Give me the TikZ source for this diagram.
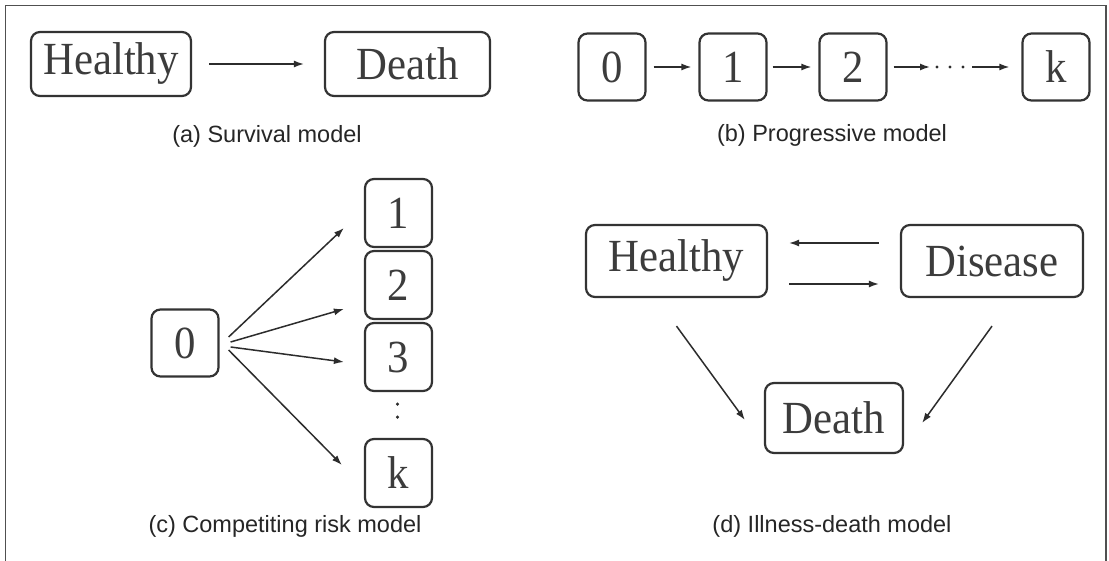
\documentclass[tikz,border=0pt]{standalone}
\usepackage{fontspec}
\usetikzlibrary{arrows.meta,calc}
\setsansfont{Liberation Sans}
\newfontfamily\boxfont[FakeStretch=0.93]{Liberation Serif}
\definecolor{boxc}{HTML}{333333}
\definecolor{txtc}{HTML}{3C3C3C}
\definecolor{arrc}{HTML}{2C2C2C}
\definecolor{capc}{HTML}{262626}
\definecolor{framec}{HTML}{505050}
\tikzset{
  state/.style={draw=boxc, line width=2.2pt, rounded corners=9pt, text=txtc,
    font=\boxfont\fontsize{46}{46}\selectfont, inner sep=0pt, align=center},
  sq/.style={state, minimum width=67pt, minimum height=67pt},
  arr/.style={draw=arrc, line width=1.5pt, -{Latex[length=10pt,width=7pt]}},
  dotrow/.style={draw=arrc, line width=3.4pt, line cap=round, dash pattern=on 0pt off 13pt},
  caption/.style={font=\sffamily\fontsize{23.5}{26}\selectfont, text=capc, inner sep=0pt},
  frame/.style={draw=framec, line width=1.6pt}
}
\begin{document}
\begin{tikzpicture}[x=1pt, y=-1pt]
\useasboundingbox (0,0) rectangle (1109,561);
\fill[white] (0,0) rectangle (1109,561);
% outer frame, open at the bottom
\draw[frame] (5.5,561) -- (5.5,5.5) -- (1106,5.5) -- (1106,561);

% (a) survival model
\node[state, minimum width=160pt, minimum height=64pt] (ha) at (111,64) {Healthy};
\node[state, minimum width=165pt, minimum height=64pt] (da) at (407.5,64) {Death};
\draw[arr, shorten <=17pt, shorten >=20pt] (ha.east) -- (da.west);
\node[caption] (capa) at (267,136) {(a) Survival model};

% (b) progressive model
\node[sq] (b0) at (612,67) {0};
\node[sq] (b1) at (733,67) {1};
\node[sq] (b2) at (853,67) {2};
\node[sq] (bk) at (1056,67) {k};
\draw[arr, shorten <=7pt, shorten >=7pt] (b0.east) -- (b1.west);
\draw[arr, shorten <=5pt, shorten >=7pt] (b1.east) -- (b2.west);
\coordinate (dl) at (930,67);
\coordinate (dr) at (972,67);
\draw[arr, shorten <=6pt] (b2.east) -- (dl);
\draw[dotrow] ($(dl)+(7,0)$) -- ($(dr)+(-5,0)$);
\draw[arr, shorten >=12pt] (dr) -- (bk.west);
\node[caption] (capb) at (832,135) {(b) Progressive model};

% (c) competing risk model
\node[sq] (c0) at (185,343) {0};
\node[sq, minimum height=68pt] (c1) at (398.5,213) {1};
\node[sq, minimum height=68pt] (c2) at (398.5,285) {2};
\node[sq, minimum height=68pt] (c3) at (398.5,357) {3};
\node[sq, minimum height=68pt] (ck) at (398.5,473) {k};
\draw[arr] ($(c0.east)+(9,-6)$) -- ($(c1.west)+(-20,15)$);
\draw[arr] ($(c0.east)+(11,-1)$) -- ($(c2.west)+(-20,24)$);
\draw[arr] ($(c0.east)+(11,4)$) -- ($(c3.west)+(-20,5)$);
\draw[arr] ($(c0.east)+(9,7)$) -- ($(ck.west)+(-22,-8)$);
\draw[dotrow] ($(c3.south)+(-1,12)$) -- ($(ck.north)+(-1,-10)$);
\node[caption] (capc) at (285,526) {(c) Competiting risk model};

% (d) illness-death model
\node[state, minimum width=181pt, minimum height=72pt] (hd) at (676.5,261) {Healthy};
\node[state, minimum width=182pt, minimum height=72pt] (dd) at (992,261) {Disease};
\node[state, minimum width=138pt, minimum height=70pt] (de) at (834,418) {Death};
\draw[arr] ($(dd.west)+(-21,-18)$) -- ($(hd.east)+(21,-18)$);
\draw[arr] ($(hd.east)+(21,23)$) -- ($(dd.west)+(-21,23)$);
\draw[arr] ($(hd.south)+(0,28)$) -- ($(de.west)+(-19,2)$);
\draw[arr] ($(dd.south)+(0,28)$) -- ($(de.east)+(18,5)$);
\node[caption] (capd) at (832,526) {(d) Illness-death model};
\end{tikzpicture}
\end{document}
